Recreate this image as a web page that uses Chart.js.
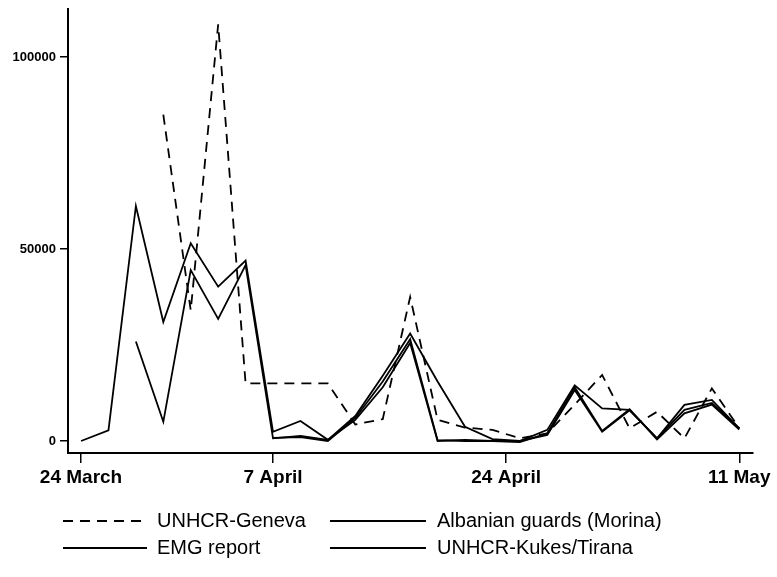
<!DOCTYPE html>
<html><head><meta charset="utf-8">
<script src="https://cdn.jsdelivr.net/npm/chart.js@4/dist/chart.umd.min.js"></script>
<style>html,body{margin:0;padding:0;background:#fff;}</style>
</head><body>
<canvas id="c" width="777" height="577"></canvas>
<script>
// ---- data ----
const xTickDays = [0, 14, 31, 48];
const xTickLabels = ['24 March', '7 April', '24 April', '11 May'];
const yTickValues = [0, 50000, 100000];

const seriesLabels = ['UNHCR-Geneva', 'Albanian guards (Morina)', 'EMG report', 'UNHCR-Kukes/Tirana'];

const genevaDays   = [6, 8, 10, 12, 14, 16, 18, 20, 22, 24, 26, 28, 30, 32, 34, 36, 38, 40, 42, 44, 46, 48];
const genevaValues = [85000, 34000, 108500, 15000, 15000, 15000, 15000, 4300, 5700, 37500, 5500, 3500, 2900, 700, 2000, 9500, 17200, 3300, 7600, 700, 13700, 3300];

const albanianDays   = [0, 2, 4, 6, 8, 10, 12, 14, 16, 18, 20, 22, 24, 26, 28, 30, 32, 34, 36, 38, 40, 42, 44, 46, 48];
const albanianValues = [0, 2800, 61200, 31000, 51500, 40200, 47000, 2400, 5200, 300, 6500, 17000, 28000, 15500, 3700, 500, 0, 2900, 14500, 8500, 8100, 700, 9400, 10700, 3300];

const emgDays   = [4, 6, 8, 10, 12, 14, 16, 18, 20, 22, 24, 26, 28, 30, 32, 34, 36, 38, 40, 42, 44, 46, 48];
const emgValues = [25900, 5000, 44500, 31800, 45800, 700, 1300, 300, 5500, 14000, 25500, 0, 300, 0, 0, 1600, 13300, 2400, 8000, 700, 8100, 9900, 3300];

const kukesDays   = [14, 16, 18, 20, 22, 24, 26, 28, 30, 32, 34, 36, 38, 40, 42, 44, 46, 48];
const kukesValues = [800, 1000, 0, 6000, 15500, 26500, 200, 0, 0, -300, 2000, 14000, 2600, 8300, 400, 7200, 9500, 3000];

function pts(days, vals) { return days.map((d, i) => ({x: d, y: vals[i]})); }

// ---- legend drawn on canvas ----
const legendPlugin = {
  id: 'customLegend',
  afterDraw(chart) {
    const ctx = chart.ctx;
    const slots = [
      {ds: 0, lx0: 63, lx1: 147, tx: 157, y: 521},
      {ds: 1, lx0: 330, lx1: 426, tx: 437, y: 521},
      {ds: 2, lx0: 63, lx1: 147, tx: 157, y: 548},
      {ds: 3, lx0: 330, lx1: 426, tx: 437, y: 548}
    ];
    ctx.save();
    slots.forEach(s => {
      const ds = chart.data.datasets[s.ds];
      ctx.beginPath();
      ctx.setLineDash(ds.borderDash || []);
      ctx.lineWidth = 1.8;
      ctx.strokeStyle = '#000';
      ctx.moveTo(s.lx0, s.y);
      ctx.lineTo(s.lx1, s.y);
      ctx.stroke();
      ctx.setLineDash([]);
      ctx.fillStyle = '#000';
      ctx.font = '20px "Liberation Sans", Arial, sans-serif';
      ctx.textBaseline = 'middle';
      ctx.textAlign = 'left';
      ctx.fillText(ds.label, s.tx, s.y);
    });
    ctx.restore();
  }
};

const lineBase = {borderColor: '#000', borderWidth: 1.8, pointRadius: 0, tension: 0, fill: false};

new Chart(document.getElementById('c'), {
  type: 'line',
  data: {
    datasets: [
      Object.assign({label: seriesLabels[0], data: pts(genevaDays, genevaValues), borderDash: [10, 7]}, lineBase),
      Object.assign({label: seriesLabels[1], data: pts(albanianDays, albanianValues)}, lineBase),
      Object.assign({label: seriesLabels[2], data: pts(emgDays, emgValues)}, lineBase),
      Object.assign({label: seriesLabels[3], data: pts(kukesDays, kukesValues)}, lineBase)
    ]
  },
  options: {
    responsive: false,
    animation: false,
    devicePixelRatio: 1,
    layout: {padding: {left: 0, top: 9, right: 24, bottom: 74}},
    plugins: {legend: {display: false}, tooltip: {enabled: false}},
    scales: {
      x: {
        type: 'linear', min: -0.95, max: 49,
        afterBuildTicks: s => { s.ticks = xTickDays.map(v => ({value: v})); },
        afterFit: s => { s.height = 50; s.paddingLeft = 0; s.paddingRight = 0; },
        ticks: {
          callback: (v, i) => xTickLabels[i],
          font: {family: '"Liberation Sans", Arial, sans-serif', size: 19, weight: 'bold'},
          color: '#000', padding: 3, maxRotation: 0, autoSkip: false
        },
        grid: {drawOnChartArea: false, drawTicks: true, tickLength: 10, color: '#000', lineWidth: 1.5},
        border: {display: true, color: '#000', width: 2}
      },
      y: {
        type: 'linear', min: -3125, max: 112500,
        afterBuildTicks: s => { s.ticks = yTickValues.map(v => ({value: v})); },
        afterFit: s => { s.width = 68; s.paddingTop = 0; s.paddingBottom = 0; },
        ticks: {
          callback: v => String(v),
          font: {family: '"Liberation Sans", Arial, sans-serif', size: 13, weight: 'bold'},
          color: '#000', padding: 4
        },
        grid: {drawOnChartArea: false, drawTicks: true, tickLength: 8, color: '#000', lineWidth: 1.5},
        border: {display: true, color: '#000', width: 2}
      }
    }
  },
  plugins: [legendPlugin]
});
</script>
</body></html>
